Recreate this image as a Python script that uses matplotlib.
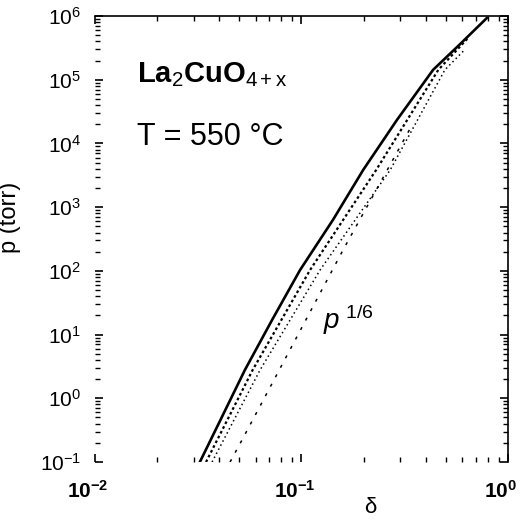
import matplotlib
matplotlib.use("Agg")
import matplotlib.pyplot as plt
from matplotlib.ticker import FixedLocator, FixedFormatter, LogLocator, NullFormatter
from matplotlib.transforms import ScaledTranslation

plt.rcParams['font.family'] = ['Liberation Sans', 'DejaVu Sans']
plt.rcParams['mathtext.fontset'] = 'custom'
plt.rcParams['mathtext.rm'] = 'Liberation Sans'
plt.rcParams['mathtext.it'] = 'Liberation Sans:italic'
plt.rcParams['mathtext.bf'] = 'Liberation Sans:bold'

# solid curve (left edge of band)
delta_fit = [0.0322, 0.0405, 0.0532, 0.072, 0.0984, 0.142, 0.199, 0.290, 0.434, 0.58, 0.79]
p_fit = [0.1, 0.456, 2.78, 16.9, 103, 630, 3840, 2.34e4, 1.43e5, 3.5e5, 9.3e5]

# data band, middle
delta_mid = [0.0345, 0.058, 0.110, 0.23, 0.46, 0.64]
p_mid = [0.1, 2.78, 103, 3840, 1.43e5, 4.5e5]

# data band, right edge
delta_right = [0.0369, 0.063, 0.123, 0.269, 0.495, 0.62]
p_right = [0.1, 2.78, 103, 3840, 1.43e5, 3.0e5]

# p^(1/6) reference line
delta_ref = [0.0451, 0.0515, 0.159, 0.347]
p_ref = [0.1, 0.221, 213, 2.07e4]

x_ticks = [1e-2, 1e-1, 1e0]
x_labels = [r'$\mathbf{10^{-2}}$', r'$\mathbf{10^{-1}}$', r'$\mathbf{10^{0}}$']
y_ticks = [1e-1, 1e0, 1e1, 1e2, 1e3, 1e4, 1e5, 1e6]
y_labels = [r'$10^{-1}$', r'$10^{0}$', r'$10^{1}$', r'$10^{2}$',
            r'$10^{3}$', r'$10^{4}$', r'$10^{5}$', r'$10^{6}$']

fig = plt.figure(figsize=(5.21, 5.23), dpi=100)
ax = fig.add_axes([0.1823, 0.1166, 0.7927, 0.8528])

ax.plot(delta_fit, p_fit, color='black', lw=1.9, zorder=3)
ax.plot(delta_mid, p_mid, color='black', lw=1.6, ls=(0, (1.2, 1.2)), zorder=2)
ax.plot(delta_right, p_right, color='black', lw=1.1, ls=(0, (1, 2)), zorder=2)
ax.plot(delta_ref, p_ref, color='black', lw=1.1, ls=(0, (2, 5)), zorder=2)

ax.set_xscale('log')
ax.set_yscale('log')
ax.set_xlim(1e-2, 1e0)
ax.set_ylim(1e-1, 1e6)

ax.xaxis.set_major_locator(FixedLocator(x_ticks))
ax.yaxis.set_major_locator(FixedLocator(y_ticks))
ax.xaxis.set_major_formatter(FixedFormatter(x_labels))
ax.yaxis.set_major_formatter(FixedFormatter(y_labels))
ax.xaxis.set_minor_locator(LogLocator(base=10, subs=range(2, 10), numticks=20))
ax.yaxis.set_minor_locator(LogLocator(base=10, subs=range(2, 10), numticks=20))
ax.xaxis.set_minor_formatter(NullFormatter())
ax.yaxis.set_minor_formatter(NullFormatter())

ax.tick_params(which='both', direction='in', top=True, right=True, color='black')
ax.tick_params(which='major', length=6, width=1.2)
ax.tick_params(which='minor', length=3.5, width=1.0)
ax.tick_params(axis='y', which='major', labelsize=15, pad=10)
ax.tick_params(axis='x', which='major', labelsize=15, pad=13)

offset = ScaledTranslation(-7 / 100, 0, fig.dpi_scale_trans)
for lab in ax.get_xticklabels():
    lab.set_transform(lab.get_transform() + offset)

ax.spines['left'].set_visible(False)
ax.spines['bottom'].set_visible(False)
ax.spines['top'].set_linewidth(1.2)
ax.spines['right'].set_linewidth(1.2)

ax.set_ylabel('p (torr)', fontsize=17)
ax.yaxis.set_label_coords(-0.179, 0.549)
ax.set_xlabel('δ', fontsize=16)
ax.xaxis.set_label_coords(0.667, -0.078)

ax.text(0.102, 0.868, r'La$_2$CuO$_{\mathrm{4+x}}$', transform=ax.transAxes,
        fontsize=21, fontweight='bold', va='center', ha='left')
ax.text(0.102, 0.729, 'T = 550 °C', transform=ax.transAxes,
        fontsize=22, va='center', ha='left')
ax.text(0.552, 0.318, r'$p^{\ 1/6}$', transform=ax.transAxes,
        fontsize=20, va='center', ha='left')

fig.savefig('out.png', dpi=100)
